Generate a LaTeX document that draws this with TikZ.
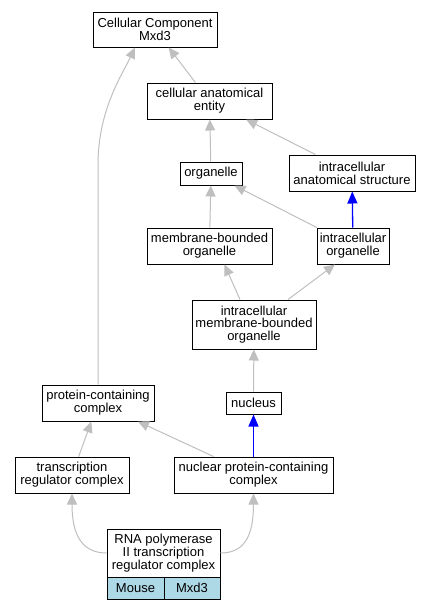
\documentclass[tikz,border=0pt]{standalone}
\usepackage{fontspec}
\setmainfont{Liberation Sans}
\usetikzlibrary{arrows.meta}
\definecolor{lightblue}{HTML}{ADD8E6}
\begin{document}
\begin{tikzpicture}[x=1pt,y=-1pt,
 box/.style={draw=black, line width=1pt, fill=white, align=center, inner sep=0pt, font=\fontsize{13}{12.8}\selectfont},
 cell/.style={draw=black, line width=1pt, fill=lightblue, inner sep=0pt, font=\fontsize{13}{12.8}\selectfont},
 isa/.style={draw=black!25, line width=1pt, -{Triangle[length=11pt,width=10pt]}},
 partof/.style={draw=blue, line width=1.3pt, -{Triangle[length=12pt,width=10pt]}}]
\useasboundingbox (0,0) rectangle (435,611);
\node[box, minimum width=124, minimum height=35] (cc) at (155,29.5) {Cellular Component\\Mxd3};
\node[box, minimum width=125, minimum height=36] (cae) at (209.5,101) {cellular anatomical\\entity};
\node[box, minimum width=62, minimum height=23] (org) at (211,173.5) {organelle};
\node[box, minimum width=126, minimum height=36] (ias) at (352,173) {intracellular\\anatomical structure};
\node[box, minimum width=125, minimum height=36] (mbo) at (209.5,246) {membrane-bounded\\organelle};
\node[box, minimum width=72, minimum height=36] (io) at (353,246) {intracellular\\organelle};
\node[box, minimum width=124, minimum height=49] (imbo) at (254,324.5) {intracellular\\membrane-bounded\\organelle};
\node[box, minimum width=112, minimum height=36] (pcc) at (98,403) {protein-containing\\complex};
\node[box, minimum width=55, minimum height=22] (nuc) at (253.5,403) {nucleus};
\node[box, minimum width=114, minimum height=36] (trc) at (72,475) {transcription\\regulator complex};
\node[box, minimum width=159, minimum height=36] (npc) at (253.5,475) {nuclear protein-containing\\complex};
\node[box, minimum width=113, minimum height=48] (rna) at (163.5,553) {RNA polymerase\\II transcription\\regulator complex};
\node[cell, minimum width=57, minimum height=22] (mouse) at (135.5,588) {Mouse};
\node[cell, minimum width=56, minimum height=22] (mxd) at (192,588) {Mxd3};

\draw[isa] (cae) -- (cc);
\draw[isa] (pcc.north) -- (98,165) .. controls (98,110) and (122,75) .. ([xshift=-20pt]cc.south);
\draw[isa] (org) -- (cae);
\draw[isa] (ias) -- (cae);
\draw[isa] (mbo) -- (org);
\draw[isa] (io) -- (org);
\draw[partof] (io) -- (ias);
\draw[isa] ([xshift=-14pt]imbo.north) -- ([xshift=15pt]mbo.south);
\draw[isa] ([xshift=34pt]imbo.north) -- ([xshift=-18pt]io.south);
\draw[isa] (nuc) -- (imbo);
\draw[isa] (trc) -- (pcc);
\draw[isa] (npc) -- (pcc);
\draw[partof] (npc) -- (nuc);
\draw[isa] (rna.west) .. controls (82,553) and (72,535) .. (trc.south);
\draw[isa] (rna.east) .. controls (245,553) and (253.5,535) .. (npc.south);
\end{tikzpicture}
\end{document}
